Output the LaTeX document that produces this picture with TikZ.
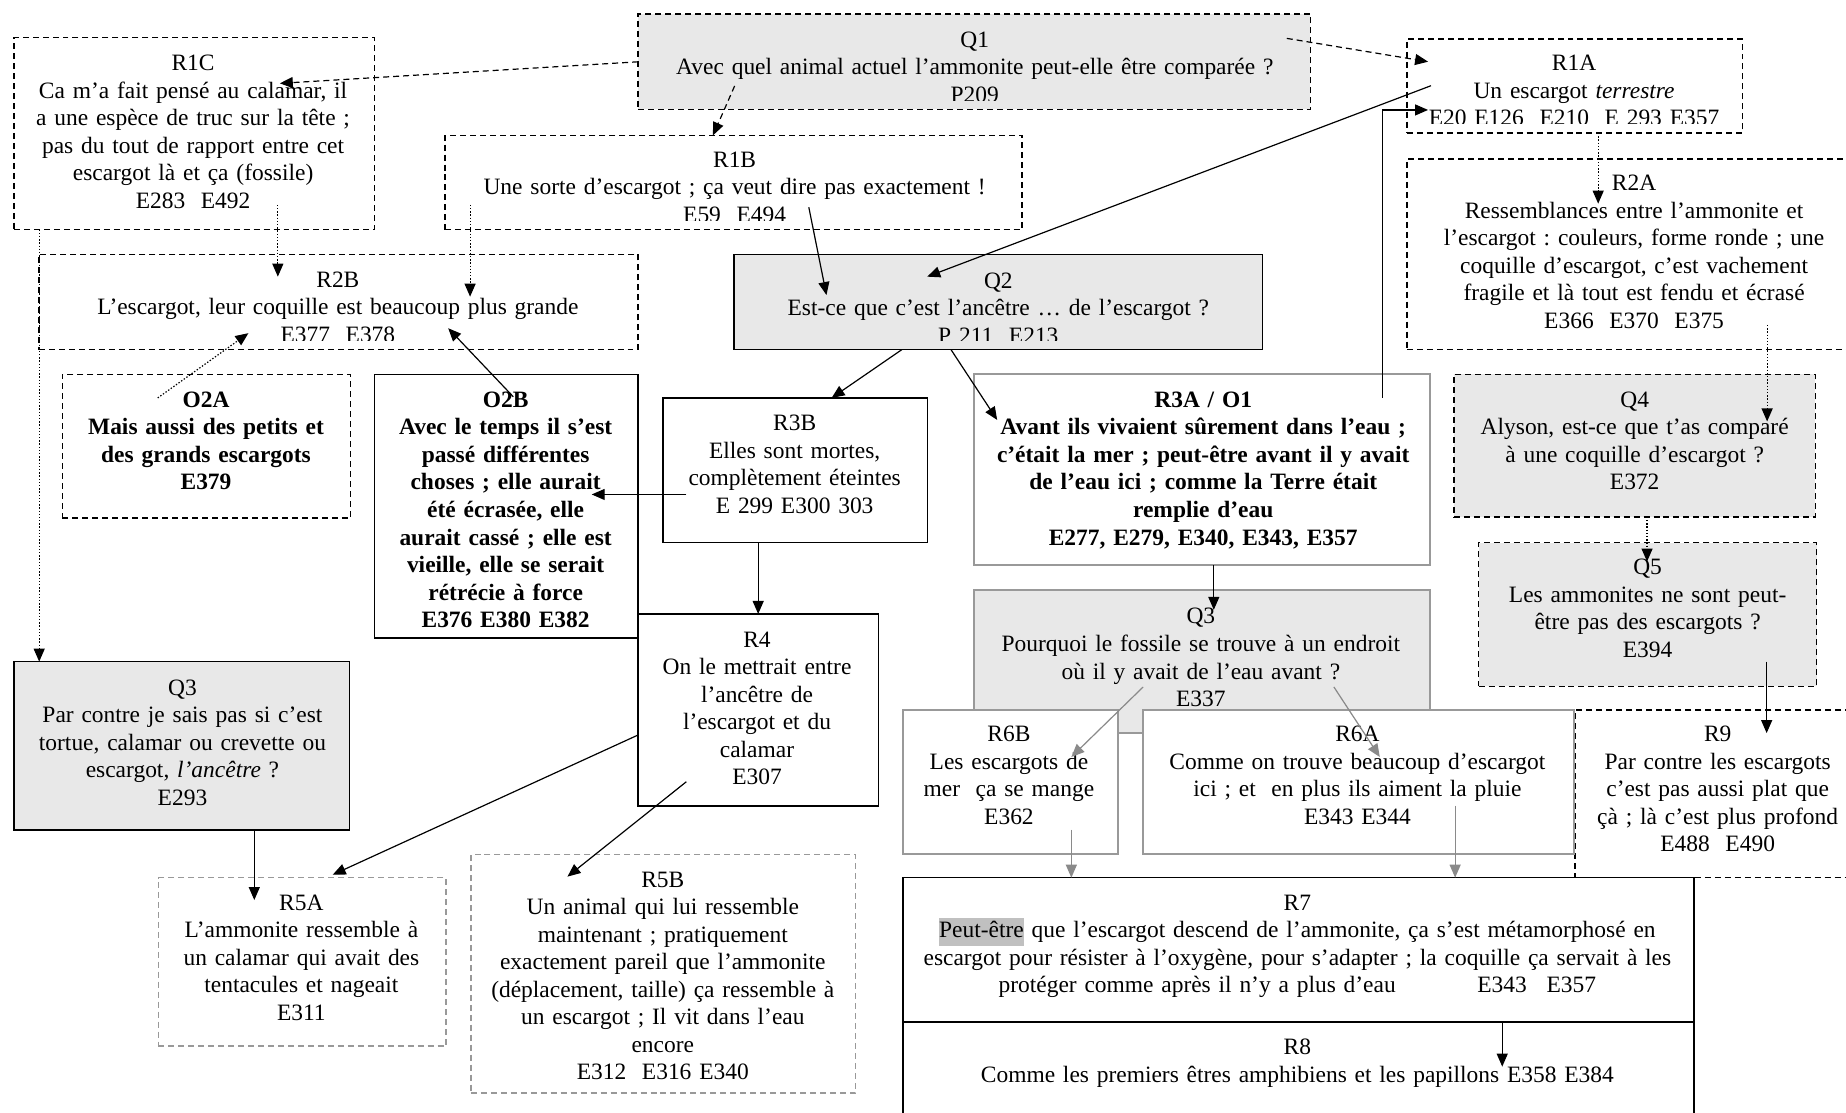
\documentclass[tikz,border=0pt]{standalone}
\usepackage{fontspec}
\setmainfont{Liberation Serif}
\usetikzlibrary{arrows.meta,fit,calc}
\definecolor{qgray}{HTML}{E8E8E8}
\definecolor{bgray}{HTML}{999999}
\definecolor{agray}{HTML}{8A8A8A}
\definecolor{hlgray}{HTML}{C0C0C0}
\setlength{\fboxsep}{0pt}
\tikzset{
 box/.style={inner sep=0pt, outer sep=0pt, line width=0.75pt},
 dbox/.style={box, draw=black, dash pattern=on 3pt off 2pt},
 sbox/.style={box, draw=black},
 gbox/.style={box, draw=bgray, line width=1pt},
 gdbox/.style={box, draw=bgray, dash pattern=on 3pt off 2pt},
 qfill/.style={fill=qgray},
 wfill/.style={fill=white},
 txt/.style={inner sep=0pt, align=center, text width=460pt, font=\fontsize{11.75}{13.8}\selectfont\frenchspacing, anchor=base},
 btxt/.style={txt, font=\fontsize{11.75}{13.8}\selectfont\frenchspacing\bfseries},
 arr/.style={line width=0.6pt, -{Triangle[length=6.5pt,width=5.5pt]}},
 darr/.style={arr, dash pattern=on 3pt off 2pt},
 oarr/.style={arr, dash pattern=on 0.7pt off 0.9pt},
 garr/.style={arr, draw=agray, fill=agray},
}
\begin{document}
\frenchspacing
\begin{tikzpicture}[x=0.59pt,y=-0.59pt]
\useasboundingbox (0,0) rectangle (1568,945);
\clip (0,0) rectangle (1568,945);
\fill[white] (0,0) rectangle (1568,945);

% ---------- boxes ----------
\node[dbox, qfill, fit={(542,12) (1113,93)}] (q1) {};
\begin{scope}\clip ($(q1.south west)+(0,-8)$) rectangle (q1.north east);
\node[txt] (q1t) at (828,40) {Q1\\Avec quel animal actuel l’ammonite peut-elle être comparée ?\\P209};
\end{scope}

\node[dbox, wfill, fit={(12,32) (318,195)}] (r1c) {};
\node[txt] (r1ct) at (164,60) {R1C\\Ca m’a fait pensé au calamar, il\\a une espèce de truc sur la tête ;\\pas du tout de rapport entre cet\\escargot là et ça (fossile)\\E283\ \ E492};

\node[dbox, wfill, fit={(1195,33) (1480,113)}] (r1a) {};
\begin{scope}\clip ($(r1a.south west)+(0,-8)$) rectangle (r1a.north east);
\node[txt] (r1at) at (1337,60) {R1A\\Un escargot \textit{terrestre}\\E20 E126\ \ E210\ \ E 293 E357};
\end{scope}

\node[dbox, wfill, fit={(378,115) (868,195)}] (r1b) {};
\begin{scope}\clip ($(r1b.south west)+(0,-7.5)$) rectangle (r1b.north east);
\node[txt] (r1bt) at (624,142) {R1B\\Une sorte d’escargot ; ça veut dire pas exactement !\\E59\ \ E494};
\end{scope}

\node[dbox, wfill, fit={(1195,135) (1600,297)}] (r2a) {};
\node[txt] (r2at) at (1388,162) {R2A\\Ressemblances entre l’ammonite et\\l’escargot : couleurs, forme ronde ; une\\coquille d’escargot, c’est vachement\\fragile et là tout est fendu et écrasé\\E366\ \ E370\ \ E375};

\node[dbox, wfill, fit={(33,216) (542,297)}] (r2b) {};
\begin{scope}\clip ($(r2b.south west)+(0,-8)$) rectangle (r2b.north east);
\node[txt] (r2bt) at (287,244) {R2B\\L’escargot, leur coquille est beaucoup plus grande\\E377\ \ E378};
\end{scope}

\node[sbox, qfill, fit={(623.5,216) (1072.5,297)}] (q2) {};
\begin{scope}\clip ($(q2.south west)+(0,-8)$) rectangle (q2.north east);
\node[txt] (q2t) at (848,245) {Q2\\Est-ce que c’est l’ancêtre … de l’escargot ?\\P 211\ \ E213};
\end{scope}

\node[dbox, wfill, fit={(53,318) (297.5,440)}] (o2a) {};
\node[btxt] (o2at) at (175,346) {O2A\\Mais aussi des petits et\\des grands escargots\\E379};

\node[sbox, wfill, fit={(318,318) (542,542)}] (o2b) {};
\node[btxt] (o2bt) at (429.5,346) {O2B\\Avec le temps il s’est\\passé différentes\\choses ; elle aurait\\été écrasée, elle\\aurait cassé ; elle est\\vieille, elle se serait\\rétrécie à force\\E376 E380 E382};

\node[sbox, wfill, fit={(563,338) (788,461)}] (r3b) {};
\node[txt] (r3bt) at (675,366) {R3B\\Elles sont mortes,\\complètement éteintes\\E 299 E300 303};

\node[gbox, wfill, fit={(827,318) (1215,480)}] (r3a) {};
\node[btxt] (r3at) at (1022,346) {R3A / O1\\Avant ils vivaient sûrement dans l’eau ;\\c’était la mer ; peut-être avant il y avait\\de l’eau ici ; comme la Terre était\\remplie d’eau\\E277, E279, E340, E343, E357};

\node[dbox, qfill, fit={(1235,318) (1542,439)}] (q4) {};
\node[txt] (q4t) at (1388.5,346) {Q4\\Alyson, est-ce que t’as comparé\\à une coquille d’escargot ?\\E372};

\node[dbox, qfill, fit={(1256,461) (1543,583)}] (q5) {};
\node[txt] (q5t) at (1399.5,488) {Q5\\Les ammonites ne sont peut-\\être pas des escargots ?\\E394};

\node[gbox, qfill, fit={(827,501) (1215,623)}] (q3r) {};
\node[txt] (q3rt) at (1020,530) {Q3\\Pourquoi le fossile se trouve à un endroit\\où il y avait de l’eau avant ?\\E337};

\node[sbox, wfill, fit={(542,521.5) (746,684.6)}] (r4) {};
\node[txt] (r4t) at (643,549.6) {R4\\On le mettrait entre\\l’ancêtre de\\l’escargot et du\\calamar\\E307};

\node[sbox, qfill, fit={(12,562) (297,705)}] (q3l) {};
\node[txt] (q3lt) at (155,590.6) {Q3\\Par contre je sais pas si c’est\\tortue, calamar ou crevette ou\\escargot, \textit{l’ancêtre} ?\\E293};

\node[dbox, wfill, fit={(1338,603) (1600,745.5)}] (r9) {};
\node[txt] (r9t) at (1459,630) {R9\\Par contre les escargots\\c’est pas aussi plat que\\çà ; là c’est plus profond\\E488\ \ E490};

\node[gbox, wfill, fit={(767,603) (950,725.5)}] (r6b) {};
\node[txt] (r6bt) at (857,630) {R6B\\Les escargots de\\mer\ \ ça se mange\\E362};

\node[gbox, wfill, fit={(971,603) (1337,725.5)}] (r6a) {};
\node[txt] (r6at) at (1153,630) {R6A\\Comme on trouve beaucoup d’escargot\\ici ; et\ \ en plus ils aiment la pluie\\E343 E344};

\node[sbox, wfill, fit={(767,745.5) (1439,868)}] (r7) {};
\node[txt] (r7t) at (1102,773) {R7\\\colorbox{hlgray}{\strut Peut-être} que l’escargot descend de l’ammonite, ça s’est métamorphosé en\\escargot pour résister à l’oxygène, pour s’adapter ; la coquille ça servait à les\\protéger comme après il n’y a plus d’eau\hspace{37pt} E343\hspace{6pt} E357};

\node[sbox, wfill, fit={(767,868) (1439,960)}] (r8) {};
\node[txt] (r8t) at (1102,896) {R8\\Comme les premiers êtres amphibiens et les papillons E358 E384};

\node[gdbox, wfill, fit={(134.5,745.5) (379,888.5)}] (r5a) {};
\node[txt] (r5at) at (256,773) {R5A\\L’ammonite ressemble à\\un calamar qui avait des\\tentacules et nageait\\E311};

\node[gdbox, wfill, fit={(400,726) (726.5,928.6)}] (r5b) {};
\node[txt] (r5bt) at (563,753.5) {R5B\\Un animal qui lui ressemble\\maintenant ; pratiquement\\exactement pareil que l’ammonite\\(déplacement, taille) ça ressemble à\\un escargot ; Il vit dans l’eau\\encore\\E312\ \ E316 E340};

% ---------- connector end points ----------
\coordinate (c1b) at (237.7,70.8);
\coordinate (c2a) at (624,73);
\coordinate (c2b) at (605.6,0);
\coordinate (c3a) at (1093,32.6);
\coordinate (c3b) at (1213,52.4);
\coordinate (c4a) at (1215.5,72.8);
\coordinate (c4b) at (787.6,235);
\coordinate (c5a) at (1174,338);
\coordinate (c5b) at (1213,93.4);
\coordinate (c6a) at (687,176);
\coordinate (c6b) at (702,250.6);
\coordinate (c7) at (1357.5,173);
\coordinate (c8a) at (1501,276);
\coordinate (c8b) at (1501,358);
\coordinate (c9) at (1399,477);
\coordinate (c10a) at (1500.6,562);
\coordinate (c10b) at (1500.6,622.7);
\coordinate (c11a) at (236,174);
\coordinate (c11b) at (236,235);
\coordinate (c12a) at (399.3,174);
\coordinate (c12b) at (399.3,252);
\coordinate (c13a) at (134,338);
\coordinate (c13b) at (211,283);
\coordinate (c14a) at (436,337);
\coordinate (c14b) at (380.7,278.8);
\coordinate (c15) at (33.3,0);
\coordinate (c16a) at (766,0);
\coordinate (c16b) at (706.4,0);
\coordinate (c17a) at (807.8,0);
\coordinate (c17b) at (847,356.7);
\coordinate (c18a) at (583,420);
\coordinate (c18b) at (502.6,420);
\coordinate (c19) at (644,0);
\coordinate (c20) at (1031,518);
\coordinate (c21a) at (971,583.5);
\coordinate (c21b) at (910,643);
\coordinate (c22a) at (1133,583.5);
\coordinate (c22b) at (1172,643);
\coordinate (c23) at (910,705);
\coordinate (c24) at (1236,684.6);
\coordinate (c25) at (1276,906);
\coordinate (c26) at (216,764.5);
\coordinate (c27a) at (0,624.3);
\coordinate (c27b) at (282.6,743);
\coordinate (c28a) at (583,664);
\coordinate (c28b) at (482,744.6);

% ---------- connectors ----------
\draw[darr] (q1.west) -- (c1b);
\draw[darr] (c2a) -- (c2b |- r1b.north);
\draw[darr] (c3a) -- (c3b);
\draw[arr] (c4a) -- (c4b);
\draw[arr] (c5a) |- (c5b);
\draw[arr] (c6a) -- (c6b);
\draw[oarr] (c7 |- r1a.south) -- (c7);
\draw[oarr] (c8a) -- (c8b);
\draw[oarr] (c9 |- q4.south) -- (c9);
\draw[arr] (c10a) -- (c10b);
\draw[oarr] (c11a) -- (c11b);
\draw[oarr] (c12a) -- (c12b);
\draw[oarr] (c13a) -- (c13b);
\draw[arr] (c14a) -- (c14b);
\draw[oarr] (c15 |- r1c.south) -- (c15 |- q3l.north);
\draw[arr] (c16a |- q2.south) -- (c16b |- r3b.north);
\draw[arr] (c17a |- q2.south) -- (c17b);
\draw[arr] (c18a) -- (c18b);
\draw[arr] (c19 |- r3b.south) -- (c19 |- r4.north);
\draw[arr] (c20 |- r3a.south) -- (c20);
\draw[garr] (c21a) -- (c21b);
\draw[garr] (c22a) -- (c22b);
\draw[garr] (c23) -- (c23 |- r7.north);
\draw[garr] (c24) -- (c24 |- r7.north);
\draw[arr] (c25 |- r7.south) -- (c25);
\draw[arr] (c26 |- q3l.south) -- (c26);
\draw[arr] (c27a -| r4.west) -- (c27b);
\draw[arr] (c28a) -- (c28b);
\end{tikzpicture}
\end{document}
